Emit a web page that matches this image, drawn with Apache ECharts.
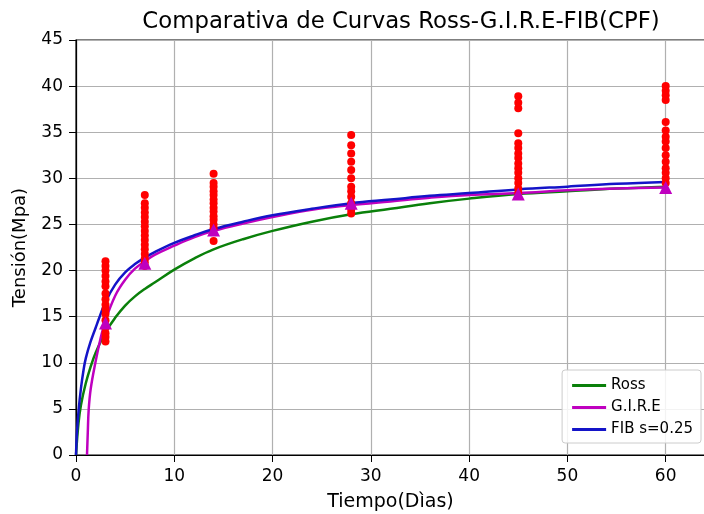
<!DOCTYPE html>
<html>
<head>
<meta charset="utf-8">
<script src="https://cdn.jsdelivr.net/npm/echarts@6/dist/echarts.min.js"></script>
<style>
  html, body { margin: 0; padding: 0; background: #fff; }
  #chart { width: 704px; height: 514px; }
</style>
</head>
<body>
<div id="chart"></div>
<script>
// curve samples (days, MPa)
const rossT = [0, 0.25, 0.5, 1, 1.5, 2, 3, 4, 5, 6, 7, 8, 10, 12, 14, 17, 20, 24, 28, 32, 36, 40, 45, 50, 55, 60];
const rossV = [0, 3.4, 5.4, 7.8, 9.6, 11.1, 13.3, 14.9, 16.2, 17.2, 18.0, 18.7, 20.1, 21.3, 22.3, 23.4, 24.3, 25.3, 26.1, 26.7, 27.3, 27.8, 28.3, 28.6, 28.9, 29.1];

const gireT = [1.12, 1.2, 1.29, 1.5, 1.97, 2.47, 3, 4, 5, 6, 7, 8, 10, 12, 14, 17, 20, 24, 28, 32, 36, 40, 45, 50, 55, 60];
const gireV = [0, 2.5, 4.9, 7.2, 10.0, 12.5, 14.6, 17.3, 19.0, 20.2, 21.0, 21.7, 22.7, 23.6, 24.3, 25.1, 25.8, 26.6, 27.1, 27.5, 27.9, 28.2, 28.4, 28.7, 28.9, 29.0];

const fibT = [0, 0.1, 0.27, 0.5, 0.78, 1, 1.46, 2, 2.34, 3, 4, 5, 6, 7, 8, 10, 12, 14, 17, 20, 24, 28, 32, 36, 40, 45, 50, 55, 60];
const fibV = [0, 2.5, 4.9, 7.2, 9.3, 10.5, 12.2, 13.8, 14.8, 16.6, 18.5, 19.8, 20.7, 21.4, 22.0, 23.0, 23.8, 24.5, 25.3, 26.0, 26.7, 27.3, 27.7, 28.1, 28.4, 28.8, 29.1, 29.4, 29.6];

// test results (red dots) per age
const ensayos3 = [21.0, 20.5, 20.0, 19.4, 18.8, 18.3, 17.5, 16.9, 16.3, 15.8, 15.3, 14.6, 13.8, 13.2, 12.8, 12.3];
const ensayos7 = [28.2, 27.3, 26.8, 26.3, 25.8, 25.3, 24.8, 24.3, 23.8, 23.3, 22.8, 22.3, 21.8, 21.3, 20.9, 20.5];
const ensayos14 = [30.5, 29.5, 29.1, 28.6, 28.2, 27.7, 27.3, 26.8, 26.4, 25.9, 25.5, 25.0, 24.6, 23.2];
const ensayos28 = [34.7, 33.6, 32.7, 31.8, 30.9, 30.0, 29.1, 28.6, 28.0, 27.3, 26.6, 26.2];
const ensayos45 = [38.9, 38.2, 37.6, 34.9, 33.8, 33.3, 32.7, 32.2, 31.6, 31.1, 30.6, 30.0, 29.5, 28.9, 28.4];
const ensayos60 = [40.0, 39.5, 39.0, 38.5, 36.1, 35.2, 34.5, 34.0, 33.3, 32.5, 31.8, 31.1, 30.6, 30.0, 29.5];

// G.I.R.E mean points (triangles)
const dias = [3, 7, 14, 28, 45, 60];
const gireMedia = [14.3, 20.8, 24.4, 27.3, 28.3, 29.0];

const xTicks = [0, 10, 20, 30, 40, 50, 60];

const font = "DejaVu Sans";

const pairs = (xs, ys) => xs.map((x, i) => [x, ys[i]]);

const ensayos = [ensayos3, ensayos7, ensayos14, ensayos28, ensayos45, ensayos60];
const puntos = [];
ensayos.forEach((vals, i) => vals.forEach(v => puntos.push([dias[i], v])));

const lineSeries = (name, data, color) => ({
  name: name,
  type: "line",
  data: data,
  symbol: "none",
  smooth: 0.4,
  lineStyle: { color: color, width: 2.5 },
  itemStyle: { color: color },
  z: 2
});

const chart = echarts.init(document.getElementById("chart"));
chart.setOption({
  animation: false,
  backgroundColor: "#fff",
  title: {
    text: "Comparativa de Curvas Ross-G.I.R.E-FIB(CPF)",
    left: 396,
    textAlign: "center",
    top: 6,
    textStyle: { fontFamily: font, fontSize: 22.8, fontWeight: "normal", color: "#000" }
  },
  legend: {
    data: ["Ross", "G.I.R.E", "FIB s=0.25"],
    orient: "vertical",
    right: 3,
    bottom: 71,
    icon: "rect",
    itemWidth: 34,
    itemHeight: 3,
    itemGap: 7,
    padding: [8, 8, 6, 10],
    backgroundColor: "rgba(255,255,255,0.85)",
    borderColor: "#cccccc",
    borderWidth: 1,
    borderRadius: 3,
    textStyle: { fontFamily: font, fontSize: 15, color: "#000" }
  },
  grid: {
    left: 76,
    top: 40,
    bottom: 59,
    right: -1,
    outerBoundsMode: "none",
    containLabel: false,
    show: true,
    borderColor: "#000",
    borderWidth: 1.2
  },
  xAxis: {
    type: "value",
    min: 0,
    max: 64,
    interval: 10,
    name: "Tiempo(Dìas)",
    nameLocation: "middle",
    nameGap: 38,
    nameTextStyle: { fontFamily: font, fontSize: 19, color: "#000" },
    axisLine: { show: true, onZero: false, lineStyle: { color: "#000", width: 1.2 } },
    axisTick: { show: true, length: 7, lineStyle: { color: "#000" } },
    axisLabel: {
      fontFamily: font, fontSize: 17, color: "#000", margin: 13,
      formatter: v => (xTicks.indexOf(v) >= 0 ? String(v) : "")
    },
    splitLine: { show: true, lineStyle: { color: "#b0b0b0", width: 1.2 } }
  },
  yAxis: {
    type: "value",
    min: 0,
    max: 45,
    interval: 5,
    name: "Tensión(Mpa)",
    nameLocation: "middle",
    nameGap: 47,
    nameTextStyle: { fontFamily: font, fontSize: 18, color: "#000" },
    axisLine: { show: true, lineStyle: { color: "#000", width: 1.2 } },
    axisTick: { show: true, length: 7, lineStyle: { color: "#000" } },
    axisLabel: { fontFamily: font, fontSize: 17, color: "#000", margin: 13 },
    splitLine: { show: true, lineStyle: { color: "#b0b0b0", width: 1.2 } }
  },
  series: [
    lineSeries("Ross", pairs(rossT, rossV), "#0a800a"),
    lineSeries("G.I.R.E", pairs(gireT, gireV), "#bf00bf"),
    lineSeries("FIB s=0.25", pairs(fibT, fibV), "#1414c8"),
    {
      name: "ensayos",
      type: "scatter",
      data: puntos,
      symbol: "circle",
      symbolSize: 8,
      itemStyle: { color: "#ff0000", opacity: 1 },
      z: 3
    },
    {
      name: "media",
      type: "scatter",
      data: pairs(dias, gireMedia),
      symbol: "triangle",
      symbolSize: 13,
      itemStyle: { color: "#bf00bf", opacity: 1 },
      z: 4
    }
  ]
});
</script>
</body>
</html>
